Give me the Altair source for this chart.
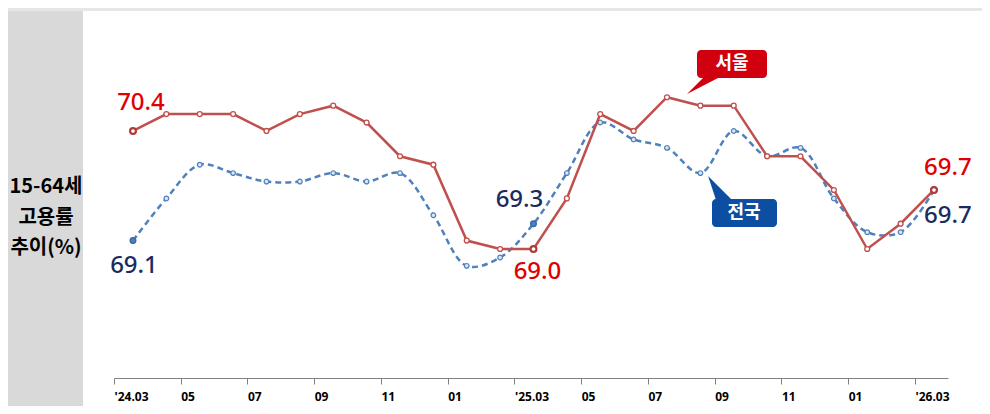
import json
import altair as alt
import pandas as pd

# ---- data ----
months = ["'24.03", "04", "05", "06", "07", "08", "09", "10", "11", "12", "01", "02",
          "'25.03", "04", "05", "06", "07", "08", "09", "10", "11", "12", "01", "02", "'26.03"]
seoul = [70.4, 70.6, 70.6, 70.6, 70.4, 70.6, 70.7, 70.5, 70.1, 70.0, 69.1, 69.0,
         69.0, 69.6, 70.6, 70.4, 70.8, 70.7, 70.7, 70.1, 70.1, 69.7, 69.0, 69.3, 69.7]
nation = [69.1, 69.6, 70.0, 69.9, 69.8, 69.8, 69.9, 69.8, 69.9, 69.4, 68.8, 68.9,
          69.3, 69.9, 70.5, 70.3, 70.2, 69.9, 70.4, 70.1, 70.2, 69.6, 69.2, 69.2, 69.7]
tick_labels = ["'24.03", "05", "07", "09", "11", "01", "'25.03", "05", "07", "09", "11", "01", "'26.03"]
series_names = ["서울", "전국"]
panel_lines = ["15-64세", "고용률", "추이(%)"]

df = pd.DataFrame({"idx": list(range(len(months))), "month": months,
                   "seoul": seoul, "nation": nation})
one = pd.DataFrame({"k": [0]})

RED_LINE = "#c0504d"
RED_TXT = "#e00000"
BLUE_LINE = "#4f81bd"
NAVY = "#1a2b5e"
RED_BOX = "#d0000f"
BLUE_BOX = "#0b4ea2"
NUM_FONT = "Noto Sans"
KR_FONT = "Noto Sans CJK KR"
KEY = "datum.idx == 0 || datum.idx == 12 || datum.idx == 24"

xs = alt.Scale(domain=[-0.569, 24.42], nice=False, zero=False)
ys = alt.Scale(domain=[67.47, 71.716], nice=False, zero=False)
xaxis = alt.Axis(
    values=list(range(0, 25, 2)),
    labelExpr=f"{json.dumps(tick_labels)}[datum.value/2]",
    title=None, grid=False, domainColor="#808080", tickColor="#808080",
    tickSize=6, tickOffset=-19, labelAlign="left", labelFlush=False,
    labelOverlap=False, labelPadding=7, labelFont=NUM_FONT,
    labelFontSize=12, labelFontWeight="bold", labelColor="#000000",
)
X = alt.X("idx:Q", scale=xs, axis=xaxis)


def Y(field):
    return alt.Y(f"{field}:Q", scale=ys, axis=None)


base = alt.Chart(df)

# top border and left grey panel
top_band = alt.Chart(one).mark_rect(color="#e6e6e6").encode(
    x=alt.value(-106), x2=alt.value(868), y=alt.value(-12), y2=alt.value(-9))
panel = alt.Chart(one).mark_rect(color="#d9d9d9").encode(
    x=alt.value(-106), x2=alt.value(-31), y=alt.value(-9), y2=alt.value(386))
panel_txt = []
for line, yy in zip(panel_lines, [167, 198, 228]):
    panel_txt.append(alt.Chart(one).mark_text(
        text=line, font=KR_FONT, fontSize=20, fontWeight="bold",
        color="#000000", align="center", baseline="middle").encode(
        x=alt.value(-68), y=alt.value(yy)))

# lines
nation_line = base.mark_line(color=BLUE_LINE, strokeWidth=2.5, strokeDash=[6, 4],
                             interpolate="catmull-rom").encode(x=X, y=Y("nation"))
nation_pts = base.mark_point(shape="circle", size=22, filled=True, fill="#dce6f2",
                             stroke=BLUE_LINE, strokeWidth=1.2, opacity=1).encode(x=X, y=Y("nation"))
nation_key = base.transform_filter(KEY).mark_point(
    shape="circle", size=30, filled=True, fill=BLUE_LINE, stroke="#3d6aa3",
    strokeWidth=1.5, opacity=1).encode(x=X, y=Y("nation"))

seoul_line = base.mark_line(color=RED_LINE, strokeWidth=2.5).encode(x=X, y=Y("seoul"))
seoul_pts = base.mark_point(shape="circle", size=24, filled=True, fill="white",
                            stroke=RED_LINE, strokeWidth=1.3, opacity=1).encode(x=X, y=Y("seoul"))
seoul_key = base.transform_filter(KEY).mark_point(
    shape="circle", size=34, filled=True, fill="white", stroke="#b03a37",
    strokeWidth=2.2, opacity=1).encode(x=X, y=Y("seoul"))


def value_label(idx, field, color, dx, dy):
    return base.transform_filter(f"datum.idx == {idx}").mark_text(
        font=NUM_FONT, fontSize=24, fontWeight=500, color=color, dx=dx, dy=dy,
        align="center", baseline="middle").encode(
        x=X, y=Y(field), text=alt.Text(f"{field}:Q", format=".1f"))


labels = [
    value_label(0, "seoul", RED_TXT, 8, -28),
    value_label(0, "nation", NAVY, 1, 25),
    value_label(12, "nation", NAVY, -14, -24),
    value_label(12, "seoul", RED_TXT, 4, 23),
    value_label(24, "seoul", RED_TXT, 14, -22),
    value_label(24, "nation", NAVY, 14, 26),
]

# callouts
seoul_ptr = alt.Chart(one).mark_point(shape="M0,0L0.94,0L-1,1Z", size=1156, filled=True,
                                      color=RED_BOX, opacity=1, strokeWidth=0).encode(
    x=alt.value(590), y=alt.value(57))
seoul_box = alt.Chart(one).mark_rect(color=RED_BOX, cornerRadius=4).encode(
    x=alt.value(583), x2=alt.value(653), y=alt.value(30), y2=alt.value(58))
seoul_txt = alt.Chart(one).mark_text(text=series_names[0], font=KR_FONT, fontSize=18,
                                     fontWeight="bold", color="white").encode(
    x=alt.value(618), y=alt.value(44))

nation_ptr = alt.Chart(one).mark_point(shape="M0,0L0.67,0L-0.33,-1Z", size=2304, filled=True,
                                       color=BLUE_BOX, opacity=1, strokeWidth=0).encode(
    x=alt.value(602), y=alt.value(180))
nation_box = alt.Chart(one).mark_rect(color=BLUE_BOX, cornerRadius=4).encode(
    x=alt.value(598), x2=alt.value(663), y=alt.value(179), y2=alt.value(207))
nation_txt = alt.Chart(one).mark_text(text=series_names[1], font=KR_FONT, fontSize=18,
                                      fontWeight="bold", color="white").encode(
    x=alt.value(630), y=alt.value(193))

chart = alt.layer(
    top_band, panel, *panel_txt,
    nation_line, nation_pts, nation_key,
    seoul_line, seoul_pts, seoul_key,
    *labels,
    seoul_ptr, seoul_box, seoul_txt,
    nation_ptr, nation_box, nation_txt,
).properties(
    width=834, height=358,
    padding={"left": 106, "top": 12, "right": 34, "bottom": 28},
    autosize=alt.AutoSizeParams(type="none"),
    background="white",
).configure_view(strokeWidth=0)

chart.save("out.html", embed_options={"renderer": "svg", "actions": False})
